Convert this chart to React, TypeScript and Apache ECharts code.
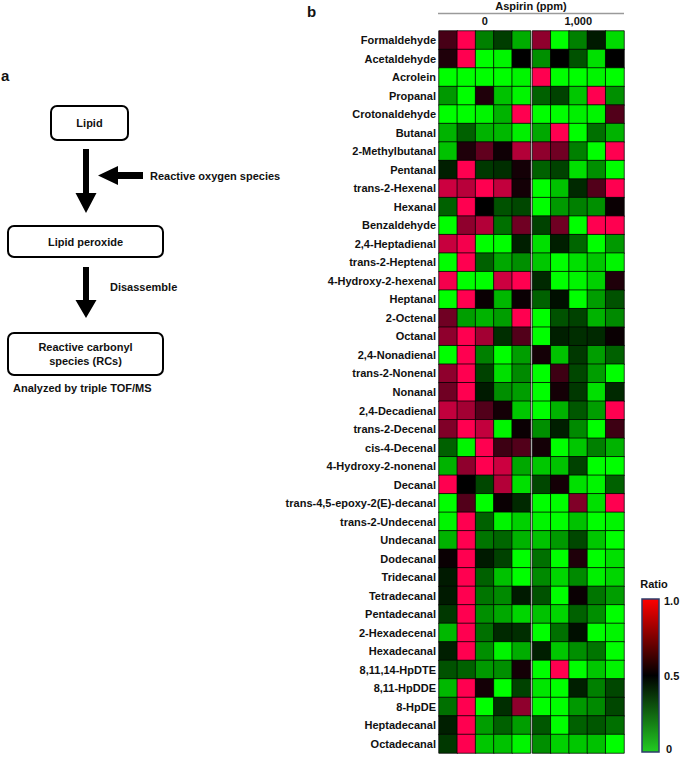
import React, { useEffect, useRef } from "react";
import * as echarts from "echarts";

const rows = [
  "Formaldehyde", "Acetaldehyde", "Acrolein", "Propanal", "Crotonaldehyde", "Butanal",
  "2-Methylbutanal", "Pentanal", "trans-2-Hexenal", "Hexanal", "Benzaldehyde",
  "2,4-Heptadienal", "trans-2-Heptenal", "4-Hydroxy-2-hexenal", "Heptanal", "2-Octenal",
  "Octanal", "2,4-Nonadienal", "trans-2-Nonenal", "Nonanal", "2,4-Decadienal",
  "trans-2-Decenal", "cis-4-Decenal", "4-Hydroxy-2-nonenal", "Decanal",
  "trans-4,5-epoxy-2(E)-decanal", "trans-2-Undecenal", "Undecanal", "Dodecanal",
  "Tridecanal", "Tetradecanal", "Pentadecanal", "2-Hexadecenal", "Hexadecanal",
  "8,11,14-HpDTE", "8,11-HpDDE", "8-HpDE", "Heptadecanal", "Octadecanal",
];

const doseLabels = ["0", "1,000"];
const replicates = ["1", "2", "3", "4", "5"];
const ratioTicks = ["1.0", "0.5", "0"];

const aspirin0 = [
  [0.64, 1.0, 0.25, 0.38, 0.16],
  [0.56, 1.0, 0.0, 0.02, 0.5],
  [0.0, 0.0, 0.0, 0.0, 0.02],
  [0.2, 0.0, 0.56, 0.12, 0.02],
  [0.0, 0.0, 0.02, 0.15, 1.0],
  [0.15, 0.31, 0.15, 0.14, 0.03],
  [0.12, 0.56, 0.69, 0.53, 0.85],
  [0.44, 1.0, 0.39, 0.41, 0.54],
  [0.9, 0.86, 1.0, 0.88, 0.54],
  [0.31, 1.0, 0.5, 0.34, 0.36],
  [0.0, 0.78, 0.85, 0.28, 0.72],
  [0.89, 0.98, 0.0, 0.0, 0.44],
  [0.0, 1.0, 0.31, 0.17, 0.22],
  [0.98, 0.0, 0.0, 0.9, 1.0],
  [0.0, 1.0, 0.52, 0.14, 0.52],
  [0.72, 0.19, 0.15, 0.19, 1.0],
  [0.78, 1.0, 0.82, 0.41, 0.66],
  [0.0, 1.0, 0.25, 0.0, 0.19],
  [0.78, 1.0, 0.37, 0.06, 0.23],
  [0.72, 1.0, 0.45, 0.22, 0.19],
  [0.88, 0.82, 0.66, 0.54, 0.11],
  [0.75, 1.0, 0.88, 0.02, 0.52],
  [0.31, 0.02, 1.0, 0.62, 0.66],
  [0.15, 0.78, 1.0, 0.9, 0.17],
  [1.0, 0.5, 0.36, 0.85, 0.06],
  [0.0, 0.66, 0.0, 0.52, 0.42],
  [0.02, 1.0, 0.31, 0.02, 0.09],
  [0.15, 1.0, 0.27, 0.3, 0.15],
  [0.52, 1.0, 0.45, 0.37, 0.0],
  [0.45, 1.0, 0.31, 0.12, 0.0],
  [0.45, 1.0, 0.27, 0.23, 0.45],
  [0.39, 1.0, 0.22, 0.17, 0.08],
  [0.14, 1.0, 0.28, 0.42, 0.41],
  [0.44, 1.0, 0.22, 0.02, 0.16],
  [0.34, 0.31, 0.2, 0.22, 0.54],
  [0.14, 1.0, 0.54, 0.0, 0.37],
  [0.28, 1.0, 0.0, 0.41, 0.78],
  [0.44, 1.0, 0.19, 0.31, 0.19],
  [0.39, 1.0, 0.11, 0.12, 0.02],
];

const aspirin1000 = [
  [0.78, 0.0, 0.25, 0.45, 0.07],
  [0.22, 0.5, 0.34, 0.06, 0.5],
  [1.0, 0.0, 0.0, 0.02, 0.0],
  [0.31, 0.37, 0.11, 1.0, 0.22],
  [0.0, 0.0, 0.03, 0.02, 0.66],
  [0.17, 1.0, 0.0, 0.28, 0.15],
  [0.78, 0.72, 0.25, 0.0, 1.0],
  [0.31, 0.37, 0.06, 0.22, 0.0],
  [0.0, 0.12, 0.42, 0.66, 1.0],
  [0.0, 0.2, 0.25, 0.22, 0.52],
  [0.37, 0.72, 0.0, 1.0, 1.0],
  [0.06, 0.44, 0.3, 0.0, 0.2],
  [0.11, 0.0, 0.06, 0.11, 0.02],
  [0.42, 0.0, 0.02, 0.09, 0.56],
  [0.31, 0.47, 0.0, 0.19, 0.34],
  [0.0, 0.34, 0.37, 0.15, 0.23],
  [0.0, 0.44, 0.41, 0.42, 0.52],
  [0.54, 0.12, 0.39, 0.19, 0.31],
  [0.0, 0.62, 0.36, 0.19, 0.0],
  [0.0, 0.54, 0.39, 0.06, 0.42],
  [0.0, 0.15, 0.33, 0.19, 1.0],
  [0.22, 0.44, 0.23, 0.0, 0.62],
  [0.54, 0.0, 0.11, 0.25, 0.15],
  [0.11, 0.12, 0.37, 0.0, 0.0],
  [0.36, 0.54, 0.06, 0.02, 0.31],
  [0.0, 0.0, 0.75, 0.06, 1.0],
  [0.02, 0.0, 0.12, 0.0, 0.02],
  [0.12, 0.2, 0.36, 0.11, 0.0],
  [0.28, 0.0, 0.56, 0.0, 0.06],
  [0.23, 0.08, 0.23, 0.03, 0.08],
  [0.34, 0.0, 0.52, 0.27, 0.19],
  [0.12, 0.08, 0.31, 0.22, 0.0],
  [0.0, 0.28, 0.47, 0.0, 0.02],
  [0.44, 0.11, 0.22, 0.27, 0.0],
  [0.0, 1.0, 0.0, 0.11, 0.02],
  [0.05, 0.0, 0.44, 0.25, 0.36],
  [0.0, 0.0, 0.2, 0.23, 0.36],
  [0.33, 0.0, 0.31, 0.33, 0.28],
  [0.22, 0.09, 0.11, 0.12, 0.0],
];

const FONT = "'Liberation Sans', Arial, Helvetica, sans-serif";

function toCells(m: number[][]) {
  const out: number[][] = [];
  m.forEach((r, ri) => r.forEach((v, ci) => out.push([ci, ri, v])));
  return out;
}

function txt(text: string, x: number, y: number, align = "left", size = 11) {
  return {
    type: "text",
    x,
    y,
    style: {
      text,
      fill: "#111",
      font: `bold ${size}px ${FONT}`,
      align,
      verticalAlign: "middle",
    },
  };
}

function arrowDown(cx: number, y0: number, yHead: number, y1: number) {
  return {
    type: "polygon",
    shape: {
      points: [
        [cx - 3, y0], [cx + 3, y0], [cx + 3, yHead], [cx + 10.5, yHead],
        [cx, y1], [cx - 10.5, yHead], [cx - 3, yHead],
      ],
    },
    style: { fill: "#000" },
  };
}

export default function App() {
  const ref = useRef<HTMLDivElement>(null);
  useEffect(() => {
    if (!ref.current) return;
    const chart = echarts.init(ref.current, null, { renderer: "svg" });
    const gridTop = 31;
    const gridH = 722;
    const xAxisBase = (gi: number, name: string) => ({
      type: "category",
      gridIndex: gi,
      data: replicates,
      position: "top",
      axisLine: { show: false },
      axisTick: { show: false },
      axisLabel: { show: false },
      splitLine: { show: false },
      name,
      nameLocation: "middle",
      nameGap: 5,
      nameTextStyle: { fontFamily: FONT, fontWeight: "bold", fontSize: 11, color: "#111" },
    });
    const yAxisBase = (gi: number, showLabel: boolean) => ({
      type: "category",
      gridIndex: gi,
      data: rows,
      inverse: true,
      axisLine: { show: false },
      axisTick: { show: false },
      splitLine: { show: false },
      axisLabel: {
        show: showLabel,
        margin: 3,
        fontFamily: FONT,
        fontWeight: "bold",
        fontSize: 11,
        color: "#111",
      },
    });
    const cellStyle = { borderColor: "rgba(0,0,0,0.75)", borderWidth: 1 };
    const option: any = {
      animation: false,
      backgroundColor: "#fff",
      grid: [
        { left: 439, top: gridTop, width: 91.5, height: gridH },
        { left: 532.5, top: gridTop, width: 91.5, height: gridH },
      ],
      xAxis: [xAxisBase(0, doseLabels[0]), xAxisBase(1, doseLabels[1])],
      yAxis: [yAxisBase(0, true), yAxisBase(1, false)],
      visualMap: {
        show: false,
        type: "continuous",
        min: 0,
        max: 1,
        seriesIndex: [0, 1],
        inRange: { color: ["#00ff00", "#000000", "#ff0050"] },
      },
      series: [
        {
          type: "heatmap",
          xAxisIndex: 0,
          yAxisIndex: 0,
          data: toCells(aspirin0),
          itemStyle: cellStyle,
          emphasis: { disabled: true },
        },
        {
          type: "heatmap",
          xAxisIndex: 1,
          yAxisIndex: 1,
          data: toCells(aspirin1000),
          itemStyle: cellStyle,
          emphasis: { disabled: true },
        },
      ],
      graphic: [
        // panel b header
        txt("b", 307, 11, "left", 15),
        txt("Aspirin (ppm)", 531, 6, "center", 11),
        {
          type: "line",
          shape: { x1: 438, y1: 13.5, x2: 624, y2: 13.5 },
          style: { stroke: "#9a9a9a", lineWidth: 1.5 },
        },
        // colour bar
        txt("Ratio", 654, 584, "center", 11),
        {
          type: "rect",
          shape: { x: 642, y: 599, width: 17, height: 153 },
          style: {
            fill: new echarts.graphic.LinearGradient(0, 0, 0, 1, [
              { offset: 0, color: "#ff0000" },
              { offset: 0.5, color: "#000000" },
              { offset: 1, color: "#22cc22" },
            ]),
            stroke: "#2d3d6b",
            lineWidth: 1.5,
          },
        },
        txt(ratioTicks[0], 664, 601, "left", 11),
        txt(ratioTicks[1], 664, 676, "left", 11),
        txt(ratioTicks[2], 666, 749, "left", 11),
        // panel a
        txt("a", 1, 75, "left", 15),
        {
          type: "rect",
          shape: { x: 51, y: 106, width: 77, height: 34, r: 6 },
          style: { fill: "#fff", stroke: "#000", lineWidth: 2 },
        },
        txt("Lipid", 89.5, 123, "center"),
        arrowDown(86, 149, 193, 213),
        {
          type: "polygon",
          shape: {
            points: [
              [143, 172], [118, 172], [118, 166], [98, 175.5],
              [118, 185], [118, 179], [143, 179],
            ],
          },
          style: { fill: "#000" },
        },
        txt("Reactive oxygen species", 150, 176, "left"),
        {
          type: "rect",
          shape: { x: 8, y: 226, width: 155, height: 31, r: 6 },
          style: { fill: "#fff", stroke: "#000", lineWidth: 2 },
        },
        txt("Lipid peroxide", 85.5, 241.5, "center"),
        arrowDown(86, 267, 300, 318),
        txt("Disassemble", 110, 287, "left"),
        {
          type: "rect",
          shape: { x: 8, y: 333, width: 155, height: 42, r: 6 },
          style: { fill: "#fff", stroke: "#000", lineWidth: 2 },
        },
        txt("Reactive carbonyl", 85.5, 347, "center"),
        txt("species (RCs)", 85.5, 361, "center"),
        txt("Analyzed by triple TOF/MS", 13, 388, "left"),
      ],
    };
    chart.setOption(option);
    return () => chart.dispose();
  }, []);
  return (
    <div
      ref={ref}
      style={{ position: "fixed", left: 0, top: 0, width: 685, height: 757 }}
    />
  );
}
